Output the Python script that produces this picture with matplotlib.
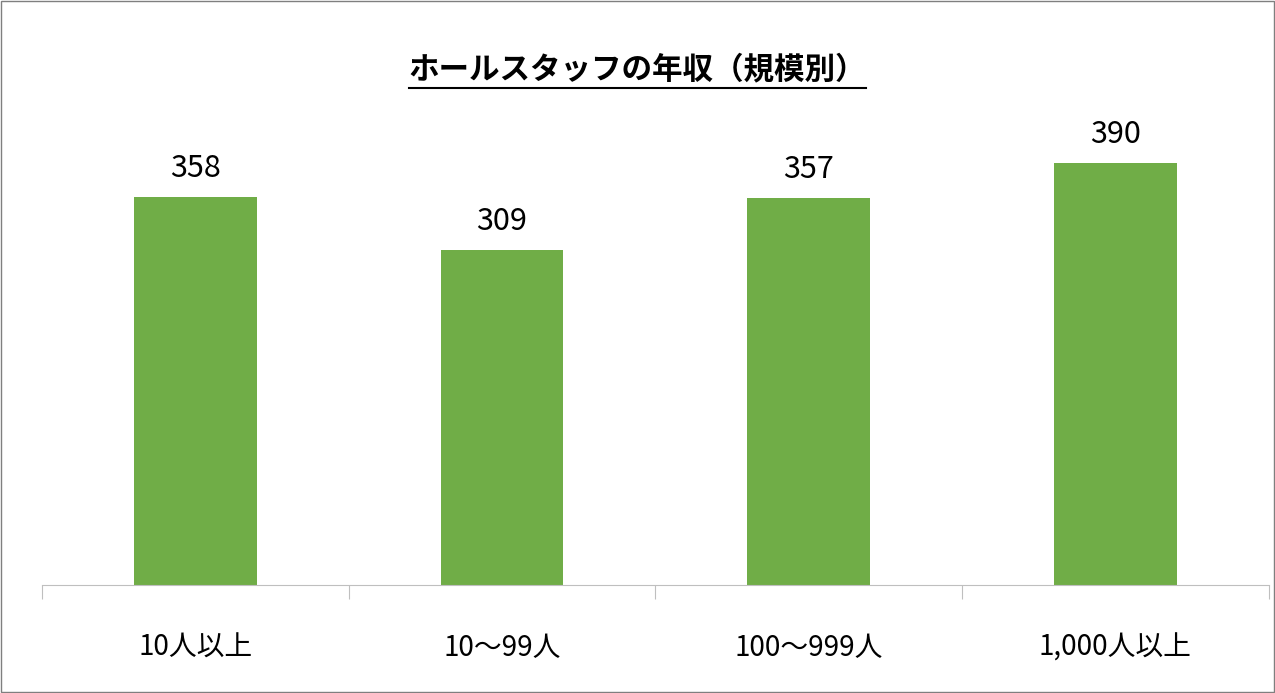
import matplotlib.pyplot as plt
from matplotlib.patches import Rectangle
from matplotlib.lines import Line2D

plt.rcParams['font.family'] = ['Noto Sans CJK JP', 'DejaVu Sans']

categories = ['10人以上', '10〜99人', '100〜999人', '1,000人以上']
salaries = [358, 309, 357, 390]
title = 'ホールスタッフの年収（規模別）'

fig = plt.figure(figsize=(12.75, 6.93), dpi=100)
ax = fig.add_axes([0.033, 0.156, 0.962, 0.70])

x = range(len(categories))
ax.bar(x, salaries, width=0.4, color='#70AD47')
for xi, v in zip(x, salaries):
    ax.text(xi, v + 12, str(v), ha='center', va='bottom', fontsize=22)

ax.set_xlim(-0.5, len(categories) - 0.5)
ax.set_ylim(0, 448)
ax.set_yticks([])
for s in ['top', 'right', 'left']:
    ax.spines[s].set_visible(False)
ax.spines['bottom'].set_color('#BFBFBF')
ax.set_xticks([i - 0.5 for i in range(len(categories) + 1)])
ax.set_xticklabels([])
ax.tick_params(axis='x', length=10, color='#BFBFBF')
for xi, c in zip(x, categories):
    ax.text(xi, -0.13, c, transform=ax.get_xaxis_transform(), ha='center',
            va='center', fontsize=20)

t = fig.text(0.5, 0.90, title, ha='center', va='center', fontsize=22, fontweight='bold')
fig.canvas.draw()
bb = t.get_window_extent().transformed(fig.transFigure.inverted())
fig.add_artist(Line2D([bb.x0, bb.x1], [bb.y0 - 0.004, bb.y0 - 0.004],
                      transform=fig.transFigure, color='black', lw=1.5))

fig.add_artist(Rectangle((0.001, 0.001), 0.998, 0.998, transform=fig.transFigure,
                         fill=False, edgecolor='#7F7F7F', lw=1))

fig.savefig('out.png', dpi=100)
